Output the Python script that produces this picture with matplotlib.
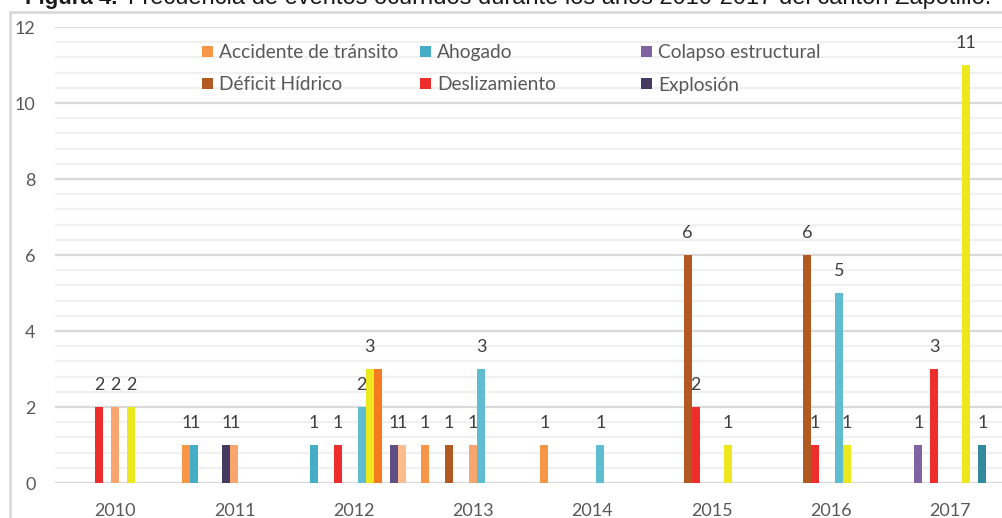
import matplotlib
matplotlib.use("Agg")
import matplotlib.pyplot as plt
from matplotlib.patches import Rectangle
import numpy as np

plt.rcParams['font.family'] = ['Lato', 'DejaVu Sans']

years = ["2010", "2011", "2012", "2013", "2014", "2015", "2016", "2017"]

series_names = [
    "Accidente de tránsito", "Ahogado", "Colapso estructural",
    "Déficit Hídrico", "Deslizamiento", "Explosión",
    "Serie 7", "Serie 8", "Serie 9", "Serie 10", "Serie 11", "Serie 12", "Serie 13",
]
accidente = [0, 1, 0, 1, 1, 0, 0, 0]
ahogado = [0, 1, 1, 0, 0, 0, 0, 0]
colapso = [0, 0, 0, 0, 0, 0, 0, 1]
deficit = [0, 0, 0, 1, 0, 6, 6, 0]
deslizamiento = [2, 0, 1, 0, 0, 2, 1, 3]
explosion = [0, 1, 0, 0, 0, 0, 0, 0]
serie7 = [2, 1, 0, 1, 0, 0, 0, 0]
serie8 = [0, 0, 2, 3, 1, 0, 5, 0]
serie9 = [2, 0, 3, 0, 0, 1, 1, 11]
serie10 = [0, 0, 3, 0, 0, 0, 0, 0]
serie11 = [0, 0, 0, 0, 0, 0, 0, 1]
serie12 = [0, 0, 1, 0, 0, 0, 0, 0]
serie13 = [0, 0, 1, 0, 0, 0, 0, 0]
series_values = [accidente, ahogado, colapso, deficit, deslizamiento, explosion,
                 serie7, serie8, serie9, serie10, serie11, serie12, serie13]
show_labels = [True, True, True, True, True, True,
               True, True, True, False, True, True, True]
colors = ["#F79646", "#45ADC5", "#8064A2", "#B05A21", "#EE2D2D", "#453A62",
          "#F8A56F", "#60BDD0", "#EDE71E", "#F47B20", "#328A9E", "#604F85", "#FBBD8E"]
n_legend = 6

W, H = 1003, 518
fig = plt.figure(figsize=(W / 100, H / 100), dpi=100)
fig.patch.set_facecolor("white")

# chart area border (partially outside the crop)
fig.patches.append(Rectangle((10 / W, -0.05), 1.1, 1 - 12 / H + 0.05,
                             transform=fig.transFigure, fill=False,
                             edgecolor="#D9D9D9", linewidth=2))

# title (cut at top)
title_font = ["Liberation Sans Narrow", "Liberation Sans"]
fig.text(25 / W, 1 - 4 / H, "Figura 4.", fontsize=16, fontweight="bold",
         family=title_font, color="#1a1a1a", va="baseline")
fig.text(128 / W, 1 - 4 / H,
         "Frecuencia de eventos ocurridos durante los años 2010-2017 del cantón Zapotillo.",
         fontsize=17, family=title_font, color="#1a1a1a", va="baseline")

left, right = 55.5 / W, 1010 / W
bottom, top = 1 - 483 / H, 1 - 27 / H
ax = fig.add_axes([left, bottom, right - left, top - bottom])

n = len(series_values)
gap = 1.9
w = 1.0 / (n + gap)
x = np.arange(len(years))
for k, (vals, c) in enumerate(zip(series_values, colors)):
    pos = x + (k - (n - 1) / 2) * w
    ax.bar(pos, vals, width=w, color=c, edgecolor="none", zorder=3)
    if show_labels[k]:
        for xp, v in zip(pos, vals):
            if v > 0:
                ax.annotate(str(v), (xp, v), xytext=(0, 22), textcoords="offset pixels",
                            ha="center", va="center", fontsize=13, color="#404040", zorder=4)

ax.set_xlim(-0.5, len(years) - 0.5)
ax.set_ylim(0, 12)
ax.set_yticks(np.arange(0, 13, 2))
ax.set_yticks(np.arange(0, 12.01, 0.4), minor=True)
ax.grid(axis="y", which="major", color="#D9D9D9", linewidth=1.6, zorder=0)
ax.grid(axis="y", which="minor", color="#F0F0F0", linewidth=1.6, zorder=0)
ax.set_xticks(x)
ax.set_xticklabels(years)
for s in ax.spines.values():
    s.set_visible(False)
ax.tick_params(axis="both", which="both", length=0, labelsize=13, colors="#595959")
ax.tick_params(axis="y", pad=14.4)
ax.tick_params(axis="x", pad=14.2)
ax.set_facecolor("none")

# legend (Excel-style fixed columns)
col_x = [202, 420, 641]
row_y = [51, 84]
for i in range(n_legend):
    r, cidx = divmod(i, 3)
    cx, cy = col_x[cidx], row_y[r]
    fig.patches.append(Rectangle((cx / W, 1 - (cy + 5.5) / H), 11 / W, 11 / H,
                                 transform=fig.transFigure, facecolor=colors[i],
                                 edgecolor="none"))
    fig.text((cx + 17) / W, 1 - (cy + 6.5) / H, series_names[i], fontsize=13.8,
             color="#595959", va="baseline", ha="left")

fig.savefig("out.png", dpi=100)
